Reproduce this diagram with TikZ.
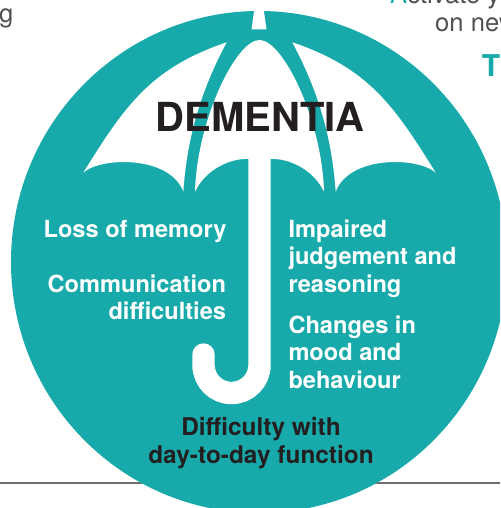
\documentclass[tikz,border=0pt]{standalone}
\usepackage{fontspec}
\setmainfont{TeX Gyre Heros}
\definecolor{umbteal}{RGB}{24,170,170}
\definecolor{inkdark}{RGB}{35,31,32}
\definecolor{pagegrey}{RGB}{80,80,80}
\definecolor{rulegrey}{RGB}{110,110,110}

\begin{document}
\begin{tikzpicture}[x=1pt,y=-1pt,
	symptom/.style={inner sep=0pt,text=white,font=\fontsize{23.6}{27.5}\selectfont\bfseries},
	pagetext/.style={inner sep=0pt,text=pagegrey,font=\fontsize{25.6}{28}\selectfont}]
		\useasboundingbox (0,0) rectangle (500,508);
		\clip (0,0) rectangle (500,508);
		\draw[rulegrey,line width=2pt] (0,483) -- (500,483);
		\fill[umbteal] (259,262) ellipse (248pt and 251pt);
		% canopy panels, the right one mirrored
		\fill[white] (83.3,172.7) .. controls (125.5,104.7) and (151,68.1) .. (226.7,42.3) .. controls (200.8,90.7) and (187.2,136.7) .. (183.3,191.7) .. controls (170,155) and (100,157) .. cycle;
		\begin{scope}[xshift=519pt,xscale=-1]
		\fill[white] (83.3,172.7) .. controls (125.5,104.7) and (151,68.1) .. (226.7,42.3) .. controls (200.8,90.7) and (187.2,136.7) .. (183.3,191.7) .. controls (170,155) and (100,157) .. cycle;
		\end{scope}
		\fill[white] (195,191.7) .. controls (197,120) and (236,40) .. (259.5,40) .. controls (283,40) and (322,120) .. (324,191.7) .. controls (314,170) and (289,158) .. (270.7,159) -- (248.3,159) .. controls (230,158) and (205,170) .. cycle;
		\fill[white] (254.5,8) -- (263.5,8) -- (266.5,29.3) -- (251.5,29.3) -- cycle;
		% handle
		\draw[white,line width=22.4pt,line cap=round] (259.5,150) -- (259.5,365) .. controls (259.5,380.5) and (247,393) .. (231.5,393) .. controls (216,393) and (203.5,380.5) .. (203.5,365) -- (203.5,354.5);
		\node[inner sep=0pt,anchor=base,text=inkdark,font=\fontsize{40}{44}\selectfont\bfseries] (dementia) at (260.3,131.7) {DEMENTIA};
		% base of a multi-line node is its last line
		\node[symptom,anchor=base east] (memory) at (226.7,237.3) {Loss of memory};
		\node[symptom,anchor=base east,align=right] (communication) at (226.2,319.5) {Communication\\difficulties};
		\node[symptom,anchor=base west,align=left] (judgement) at (288.3,292.3) {Impaired\\judgement and\\reasoning};
		\node[symptom,anchor=base west,align=left] (mood) at (288.3,388.3) {Changes in\\mood and\\behaviour};
		\node[symptom,text=inkdark,font=\fontsize{24.4}{27.5}\selectfont\bfseries,anchor=base,align=center] (function) at (261,463.3) {Difficulty with\\day-to-day function};
		% bits of the surrounding page
		\node[pagetext,anchor=base east] (leftcol) at (13.5,22.7) {g};
		\node[pagetext,anchor=base west] (activate) at (390,3.5) {\textcolor{umbteal}{A}ctivate your};
		\node[pagetext,anchor=base west] (onnew) at (435,31.7) {on new};
		\node[inner sep=0pt,anchor=base west,text=umbteal,font=\fontsize{30}{32}\selectfont\bfseries] (heading) at (481.7,76.7) {T};
	\end{tikzpicture}
\end{document}
